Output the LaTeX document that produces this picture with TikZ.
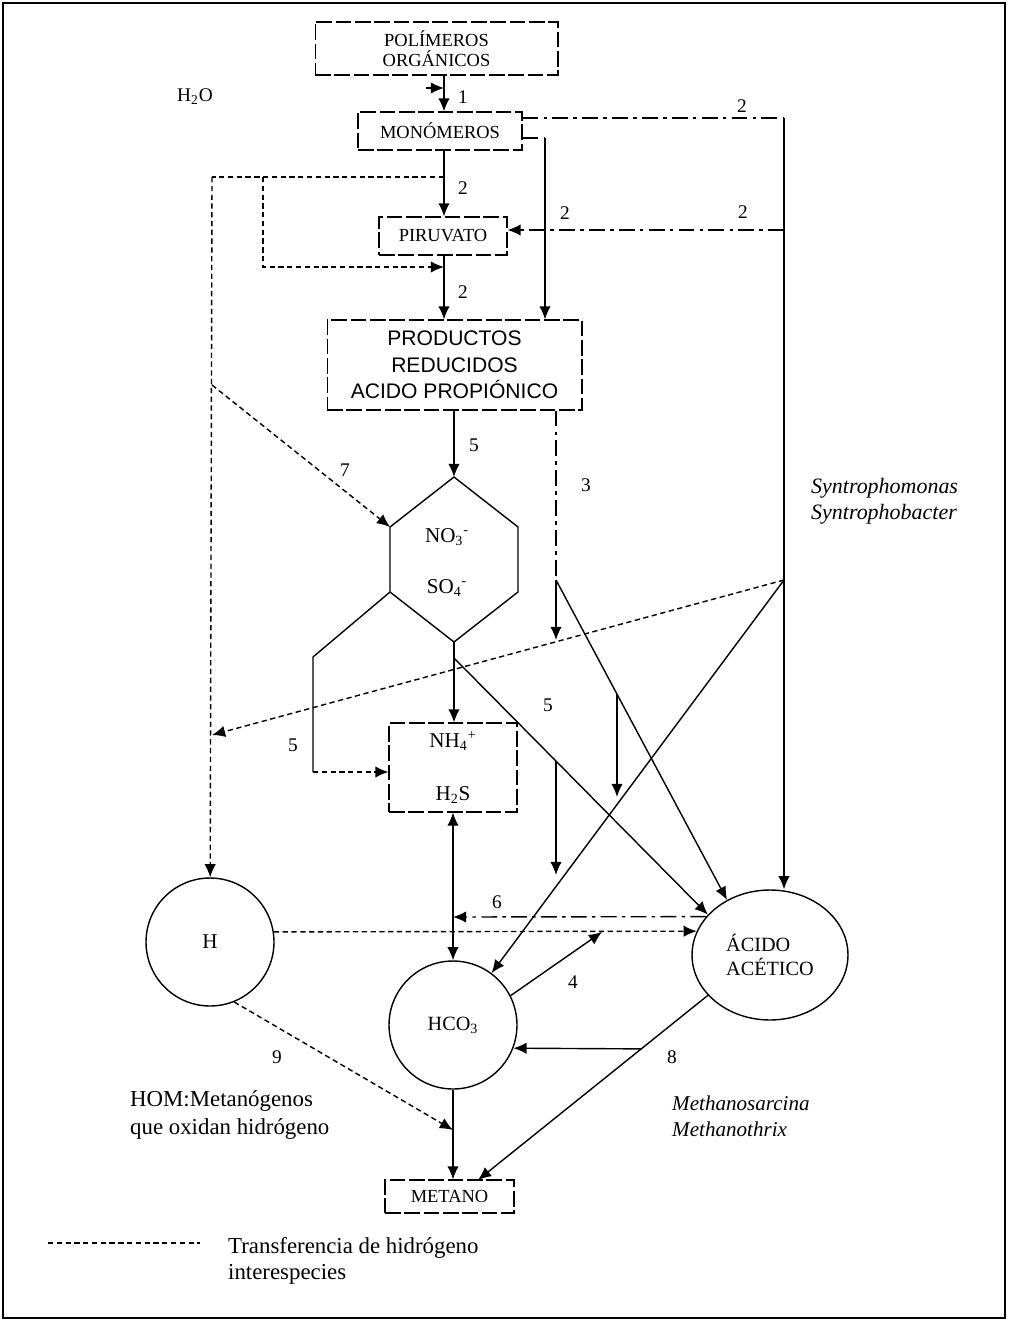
\documentclass[tikz,border=0pt]{standalone}
\usepackage{fontspec}
\setmainfont{Liberation Serif}
\setsansfont{Liberation Sans}
\usetikzlibrary{arrows.meta,shapes.geometric}

\begin{document}
\begin{tikzpicture}[x=0.02cm,y=-0.02cm,
    caja/.style={draw,dash pattern=on 9pt off 2pt,line width=.6pt,inner sep=0pt,align=center,font=\fontsize{10.5}{11.5}\selectfont},
    flecha/.style={-{Latex[length=7.5pt,width=6.5pt]},line width=.8pt},
    dflecha/.style={{Latex[length=7.5pt,width=6.5pt]}-{Latex[length=7.5pt,width=6.5pt]},line width=.8pt},
    hidro/.style={dash pattern=on 3pt off 2pt,line width=.8pt},
    traza/.style={dash pattern=on 9pt off 3pt on 2pt off 3pt,line width=.6pt},
    num/.style={font=\fontsize{11}{13}\selectfont},
    bola/.style={draw,circle,line width=.8pt,inner sep=0pt,minimum size=2.56cm}]
    \useasboundingbox (0,0) rectangle (1008,1321);
    \draw[line width=.6pt] (3,3) rectangle (1005,1318);

    \node[caja,minimum width=4.86cm,minimum height=1.06cm] (poli) at (436.5,48.5) {POLÍMEROS\\ORGÁNICOS};
    \node[caja,minimum width=3.28cm,minimum height=.76cm] (mono) at (440,131) {MONÓMEROS};
    \node[caja,minimum width=2.56cm,minimum height=.76cm] (piru) at (443,236) {PIRUVATO};
    \node[caja,minimum width=5.1cm,minimum height=1.8cm,font=\sffamily\fontsize{12}{15}\selectfont] (prod) at (454.5,365) {PRODUCTOS\\REDUCIDOS\\ACIDO PROPIÓNICO};
    \node[caja,minimum width=2.56cm,minimum height=1.78cm,font=\fontsize{12}{14}\selectfont] (nh4) at (453,767.5) {NH\textsubscript{4}\textsuperscript{+}\\[16pt]H\textsubscript{2}S};
    \node[caja,minimum width=2.58cm,minimum height=.66cm] (metano) at (449.5,1196.5) {METANO};
    \node[draw,ellipse,line width=.8pt,inner sep=0pt,minimum width=3.12cm,minimum height=2.6cm,align=left,font=\fontsize{11.5}{14}\selectfont] (acido) at (770,955) {ÁCIDO\\ACÉTICO};
    \node[bola,font=\fontsize{12}{14}\selectfont] (h) at (210,942) {H};
    \node[bola,font=\fontsize{11.5}{13}\selectfont] (hco3) at (453,1025) {HCO\textsubscript{3}};

    \coordinate (hexN) at (454,477);
    \coordinate (hexNE) at (518,527);
    \coordinate (hexSE) at (518,592);
    \coordinate (hexS) at (454,642);
    \coordinate (hexSW) at (390,592);
    \coordinate (hexNW) at (390,527);
    \draw[line width=.8pt] (hexN) -- (hexNE) -- (hexSE) -- (hexS) -- (hexSW) -- (hexNW) -- cycle;
    \node[font=\fontsize{12}{14}\selectfont] (no3) at (447,537) {NO\textsubscript{3}\textsuperscript{-}};
    \node[font=\fontsize{12}{14}\selectfont] (so4) at (447,588) {SO\textsubscript{4}\textsuperscript{-}};

    \node[font=\fontsize{11}{13}\selectfont] (agua) at (195,97) {H\textsubscript{2}O};
    \coordinate (eje) at (444,0);
    \coordinate (cagua) at (426,88);
    \draw[flecha] (cagua) -- (cagua -| eje);
    \draw[flecha] (poli.south -| eje) -- (mono.north -| eje);
    \node[num] (n1) at (463,97) {1};

    \draw[flecha] (mono.south -| eje) -- (piru.north -| eje);
    \node[num] (n2b) at (463,188) {2};
    \draw[flecha] (piru.south -| eje) -- (prod.north -| eje);
    \node[num] (n2e) at (463,292) {2};

    \coordinate (c2a) at (784,118);
    \draw[traza] (mono.east |- c2a) -- (c2a);
    \draw[flecha] (c2a) -- (c2a |- acido.north);
    \node[num] (n2a) at (742,106) {2};
    \coordinate (c2c) at (545,138);
    \draw[traza] (mono.east |- c2c) -- (c2c);
    \draw[flecha] (c2c) -- (c2c |- prod.north);
    \node[num] (n2c) at (565,213) {2};
    \coordinate (c2d) at (784,230);
    \draw[traza,flecha] (c2d) -- (c2d -| piru.east);
    \node[num] (n2d) at (743,212) {2};

    \coordinate (c7a) at (212,177);
    \coordinate (c7b) at (263,177);
    \coordinate (c7c) at (263,267);
    \draw[hidro] (eje |- c7a) -- (c7a);
    \draw[hidro,flecha] (c7b) -- (c7c) -- (c7c -| eje);
    \draw[hidro,flecha] (c7a) -- (h);
    \coordinate (c7d) at (212,385);
    \draw[hidro,flecha] (c7d) -- (hexNW);
    \node[num] (n7) at (345,470) {7};

    \draw[flecha] (prod.south -| hexN) -- (hexN);
    \node[num] (n5a) at (474,445) {5};
    \draw[flecha] (hexS) -- (nh4.north -| hexS);

    \coordinate (c5a) at (313,657);
    \coordinate (c5b) at (313,772);
    \draw[line width=.8pt] (hexSW) -- (c5a) -- (c5b);
    \draw[hidro,flecha] (c5b) -- (c5b -| nh4.west);
    \node[num] (n5b) at (293,745) {5};

    \coordinate (c5c) at (454,658);
    \draw[flecha] (c5c) -- (acido.147);
    \draw[flecha] (556,761) coordinate (c5d) -- (556,875) coordinate (c5e);
    \node[num] (n5c) at (548,705) {5};

    \coordinate (c3b) at (556,580);
    \coordinate (c3c) at (556,640);
    \draw[traza] (prod.south -| c3b) -- (c3b);
    \draw[flecha] (c3b) -- (c3c);
    \draw[flecha] (c3b) -- (acido.128);
    \draw[flecha] (617,694) coordinate (c3d) -- (617,797) coordinate (c3e);
    \node[num] (n3) at (586,485) {3};

    \coordinate (csyn) at (784,580);
    \coordinate (c7e) at (212,735);
    \draw[hidro,flecha] (csyn) -- (c7e);
    \draw[flecha] (csyn) -- (hco3);
    \node[font=\itshape\fontsize{12.5}{15}\selectfont,align=left,anchor=west] (syn) at (805,501) {Syntrophomonas\\Syntrophobacter};

    \draw[dflecha] (nh4.south) -- (hco3.north);
    \coordinate (c6) at (453,917);
    \draw[traza,flecha] (acido.149) -- (c6);
    \node[num] (n6) at (497,902) {6};
    \draw[hidro,flecha] (h.9) -- (acido.162.5);

    \coordinate (c4) at (602,932);
    \draw[flecha] (hco3.27) -- (c4);
    \node[num] (n4) at (573,982) {4};

    \coordinate (c8b) at (478,1180);
    \draw[flecha] (acido.213) -- coordinate[pos=.29] (c8) (c8b);
    \draw[flecha] (c8) -- (hco3.-21);
    \node[num] (n8) at (672,1057) {8};
    \node[font=\itshape\fontsize{12}{15}\selectfont,align=left,anchor=west] (metsar) at (666,1116) {Methanosarcina\\Methanothrix};

    \draw[flecha] (hco3.south) -- (hco3.south |- metano.north);
    \coordinate (c9) at (453,1130);
    \draw[hidro,flecha] (h.-68) -- (c9);
    \node[num] (n9) at (277,1057) {9};
    \node[font=\fontsize{13}{16}\selectfont,align=left,anchor=west] (hom) at (124,1115) {HOM:Metanógenos\\que oxidan hidrógeno};

    \coordinate (ley1) at (48,1243);
    \coordinate (ley2) at (200,1243);
    \draw[hidro] (ley1) -- (ley2);
    \node[font=\fontsize{13}{15}\selectfont,align=left,anchor=north west] (ley) at (222,1231) {Transferencia de hidrógeno\\interespecies};
\end{tikzpicture}
\end{document}
